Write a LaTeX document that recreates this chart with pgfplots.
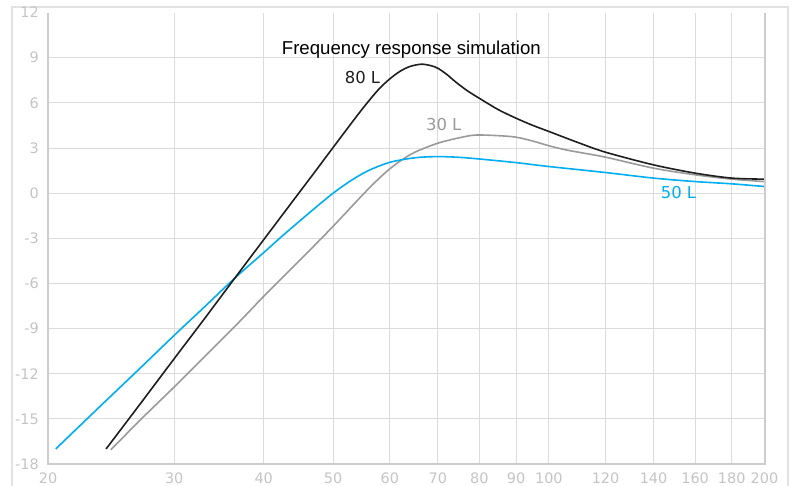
\documentclass[border=0pt]{standalone}
\usepackage{pgfplots}
\pgfplotsset{compat=1.18}
\usepackage{fontspec}
\setmainfont{Liberation Sans}
\newfontfamily\dv{DejaVu Sans}
\definecolor{cyanl}{HTML}{00AEEF}
\definecolor{grayl}{HTML}{9A9A9A}
\definecolor{blackl}{HTML}{1E1E1E}
\definecolor{gridc}{HTML}{DCDCDC}
\definecolor{axc}{HTML}{CDCDCD}
\definecolor{tickc}{HTML}{C4C4C4}
\definecolor{framec}{HTML}{E2E2E2}

\pgfplotstableread{
x y
24.1 -17.0
27 -13.9
30 -11.0
33 -8.4
36.46 -5.64
40 -3.09
44.46 -0.19
47 1.33
50 3.04
53.9 5.1
56 6.1
58 6.95
60 7.6
62 8.1
64 8.42
66.4 8.57
68.5 8.47
70 8.3
72 7.9
74.3 7.35
77 6.8
80 6.3
85 5.55
90 4.98
95 4.5
100 4.1
110 3.35
120 2.72
140 1.88
160 1.33
180 1.0
200 0.93
}\blackdata

\pgfplotstableread{
x y
24.48 -17.05
27 -15.0
30 -12.88
34 -10.3
37.04 -8.52
40 -6.86
45 -4.42
50 -2.2
55 -0.1
58 1.0
60 1.62
62 2.13
65 2.72
70 3.32
75 3.68
79 3.86
85 3.82
90 3.72
95 3.46
100 3.15
105 2.9
110 2.72
120 2.39
140 1.66
160 1.22
180 0.93
200 0.77
}\graydata

\pgfplotstableread{
x y
20.5 -17.0
23.64 -14.17
27 -11.55
30 -9.45
33 -7.6
36.46 -5.64
40 -3.95
42.1 -3.0
44.9 -1.85
47 -1.05
50 0.0
53 0.85
56 1.5
60 2.05
65 2.35
70 2.43
75 2.38
80 2.27
90 2.03
100 1.77
120 1.37
140 1.0
160 0.77
180 0.62
200 0.44
}\cyandata

\begin{document}
\begin{tikzpicture}[x=1bp,y=1bp]
\path[use as bounding box] (0,0) rectangle (793,486);
\draw[framec, line width=1.5bp] (12,0) -- (12,479) -- (788,479) -- (788,0);
\begin{axis}[
  name=ax,
  at={(48bp,22bp)}, anchor=south west,
  scale only axis, width=716.5bp, height=451.4bp,
  xmode=log, xmin=20, xmax=200, ymin=-18, ymax=12,
  axis line style={draw=none},
  clip=false,
  xtick={20,30,40,50,60,70,80,90,100,120,140,160,180,200},
  xticklabels={20,30,40,50,60,70,80,90,100,120,140,160,180,200},
  ytick={-15,-12,-9,-6,-3,0,3,6,9},
  yticklabels={-15,-12,-9,-6,-3,0,3,6,9},
  extra y ticks={-18,12},
  extra y tick labels={-18,12},
  extra y tick style={grid=none},
  grid=major,
  major grid style={gridc, line width=1bp},
  major tick length=0pt,
  tick label style={font=\dv\fontsize{14.5}{14.5}\selectfont, text=tickc, inner sep=0pt},
  xticklabel style={anchor=north, yshift=-8.5bp},
  yticklabel style={anchor=east, xshift=-9bp},
]
\addplot[grayl, line width=1.6bp, smooth] table[x=x,y=y] {\graydata};
\addplot[cyanl, line width=1.6bp, smooth] table[x=x,y=y] {\cyandata};
\addplot[blackl, line width=1.6bp, smooth] table[x=x,y=y] {\blackdata};
\end{axis}
\draw[axc, line width=2bp] (ax.north west) -- (ax.south west) -- (ax.south east) -- (ax.north east);
\node[anchor=base west, inner sep=0pt, font=\fontsize{18.7}{18.7}\selectfont, text=black] at (281.7,431) {Frequency response simulation};
\node[inner sep=0pt, font=\dv\fontsize{16.5}{16.5}\selectfont, text=blackl] at (362.5,408) {80 L};
\node[inner sep=0pt, font=\dv\fontsize{16.5}{16.5}\selectfont, text=grayl] at (443.7,361) {30 L};
\node[inner sep=0pt, font=\dv\fontsize{16.5}{16.5}\selectfont, text=cyanl] at (678.5,293) {50 L};
\end{tikzpicture}
\end{document}
